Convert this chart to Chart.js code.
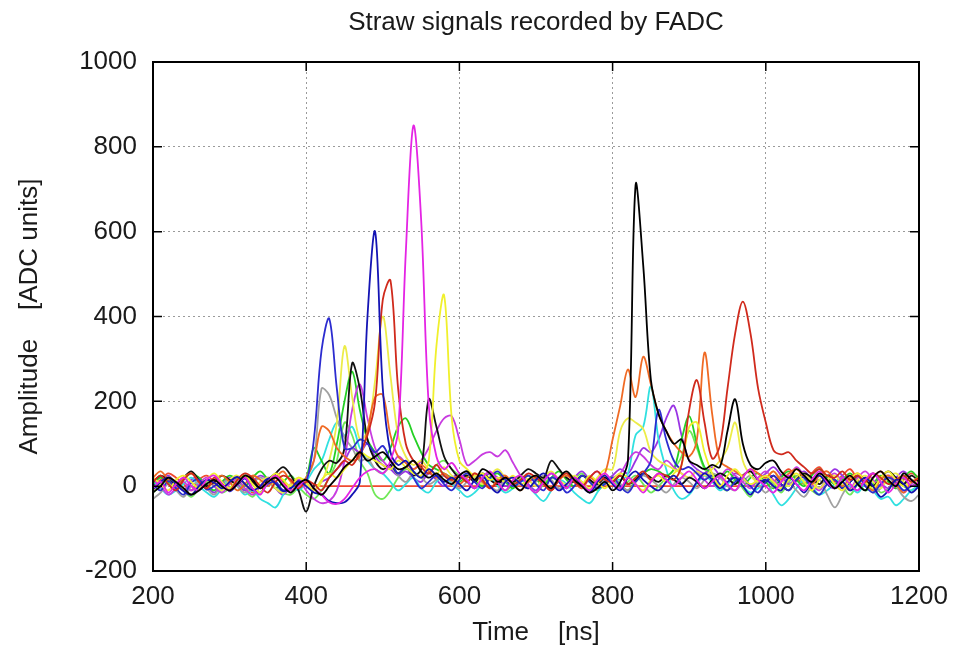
<!DOCTYPE html>
<html>
<head>
<meta charset="utf-8">
<title>Straw signals recorded by FADC</title>
<script src="https://cdn.jsdelivr.net/npm/chart.js@4.4.1/dist/chart.umd.min.js"></script>
<style>
  html, body { margin: 0; padding: 0; background: #fff; }
  canvas { display: block; }
</style>
</head>
<body>
<canvas id="fadc" width="973" height="653"></canvas>
<script>
// sampling times (ns), one value every 10 ns
var times = [];
for (var t = 200; t <= 1200; t += 10) times.push(t);

var xTicks = [200, 400, 600, 800, 1000, 1200];
var yTicks = [-200, 0, 200, 400, 600, 800, 1000];

// amplitudes per straw channel
var blue = [5,-10,12,-5,-20,8,15,-8,0,10,
  -12,4,18,-6,-15,5,10,-10,-4,8,
  10,110,320,395,230,90,90,110,100,80,
  95,60,30,45,20,-5,10,25,5,-10,
  15,30,10,-5,20,35,15,0,10,25,
  5,-10,20,10,-15,0,25,10,-5,5,
  20,0,-15,10,30,60,180,110,60,40,
  45,30,15,25,5,-10,10,20,0,-15,
  10,25,5,-10,15,20,-5,-20,5,15,
  -5,10,25,0,-15,5,20,10,-10,0,
  5];
var darkBlue = [-8,10,20,5,-12,-20,0,15,8,-5,
  10,22,5,-10,0,18,6,-12,-5,12,
  0,-15,-20,-35,-40,-38,-20,10,400,600,
  230,80,50,60,35,20,40,25,10,20,
  5,-10,15,25,0,-15,10,20,5,-5,
  15,30,10,-10,5,20,0,-15,10,25,
  5,-10,20,35,15,0,-10,10,25,5,
  -15,10,30,15,-5,10,20,0,-20,5,
  15,0,-10,20,5,-15,10,25,5,-5,
  10,-10,5,20,0,-25,-10,15,5,-15,
  0];
var red = [10,25,5,-10,15,30,10,-5,20,5,
  -10,15,30,20,0,-15,10,25,15,-5,
  10,5,-10,20,40,60,50,80,120,200,
  440,485,230,100,60,45,30,50,25,15,
  25,10,30,15,-5,10,20,5,15,30,
  20,5,-10,15,30,10,0,20,35,15,
  10,25,5,20,35,15,30,25,15,50,
  180,250,150,65,95,230,360,435,360,230,
  150,85,75,80,60,45,30,40,25,20,
  35,15,25,10,30,20,5,15,25,10,
  20];
var magenta = [-5,10,-15,5,20,0,-10,15,25,5,
  -10,5,20,-5,-20,10,25,5,-10,0,
  15,-5,-20,-38,-42,-30,-5,20,35,40,
  30,60,130,550,850,630,190,70,40,55,
  30,15,-5,20,35,10,-10,15,25,0,
  -15,10,30,15,-5,20,5,-10,15,30,
  10,-5,20,5,-15,10,30,15,0,20,
  35,15,-5,10,25,5,-10,20,40,15,
  0,-15,10,25,5,-10,15,35,10,-5,
  20,5,-10,15,30,10,-15,5,20,0,
  10];
var violet = [15,0,-20,-5,10,-10,5,20,0,-15,
  5,15,-5,-20,0,20,10,-10,5,15,
  -10,-30,-40,-35,-10,60,180,240,160,90,
  60,45,70,55,40,60,90,130,160,165,
  110,50,60,75,80,70,85,55,25,10,
  20,5,-10,15,30,10,-5,20,35,15,
  20,30,60,80,70,50,40,60,45,30,
  20,35,15,0,20,40,25,10,-5,20,
  35,15,0,20,45,25,5,-10,15,30,
  10,-5,20,35,15,0,25,10,-15,5,
  15];
var yellow = [20,5,-10,15,25,10,-5,15,30,10,
  -5,15,25,5,-15,10,30,15,0,20,
  10,-10,15,30,20,40,60,80,70,60,
  50,40,60,45,30,25,60,330,450,160,
  60,40,25,30,15,20,10,25,5,15,
  25,10,-5,15,30,20,5,25,10,-5,
  15,30,20,5,-10,15,25,10,30,50,
  140,150,80,30,0,25,40,20,5,15,
  25,10,-5,15,30,10,-10,15,25,5,
  -10,15,30,10,-5,20,35,15,0,10,
  20];
var paleYellow = [-10,5,20,10,-5,-20,0,15,5,-10,
  15,25,5,-10,10,20,-5,-15,5,20,
  5,-10,10,60,150,330,210,110,130,250,
  400,260,120,70,50,60,40,30,45,25,
  15,30,20,5,25,40,20,10,25,15,
  0,20,35,15,5,25,10,-5,20,40,
  40,130,160,150,135,80,60,50,40,30,
  20,35,25,40,60,90,150,60,25,10,
  20,35,15,0,20,30,10,-5,15,25,
  5,-10,15,25,10,-5,20,30,10,0,
  15];
var black = [10,25,15,5,20,35,15,0,10,25,
  15,5,20,10,-5,15,30,45,25,-10,
  -60,0,40,60,55,90,290,230,110,60,
  40,50,30,45,25,40,205,140,70,40,
  20,25,10,30,15,5,20,10,25,40,
  30,20,60,40,20,10,25,15,5,20,
  10,25,5,15,30,20,10,25,15,5,
  20,10,-5,15,30,20,5,25,35,15,
  10,25,5,-10,15,30,20,5,25,15,
  -5,10,25,15,0,20,35,20,5,25,
  10];
var black2 = [-15,0,20,10,-5,-20,-10,5,15,0,
  -10,5,25,15,-5,10,20,0,-15,5,
  15,-5,-20,0,20,45,60,80,60,70,
  80,60,40,45,60,35,20,30,15,5,
  25,35,15,40,30,10,20,5,-10,15,
  25,10,-5,20,35,15,0,-15,-5,10,
  -10,10,60,710,520,250,170,130,100,110,
  60,50,40,50,45,130,205,100,50,40,
  55,60,35,20,40,25,10,30,15,-5,
  10,25,5,-10,20,35,15,0,30,15,
  0];
var gray = [-30,-15,5,-10,-25,0,10,-5,-20,5,
  15,0,-15,5,20,10,-5,-15,0,10,
  20,60,230,215,160,115,90,60,65,40,
  30,45,25,10,30,20,5,15,25,10,
  -5,10,25,15,0,-10,15,20,5,-5,
  10,25,15,-5,5,20,10,-10,0,15,
  20,5,-10,10,25,15,0,-15,5,20,
  10,-5,15,30,20,0,-10,10,25,5,
  -15,5,20,10,-10,-25,0,15,-20,-50,
  -20,10,25,5,-15,-5,20,0,-25,-35,
  -20];
var green = [5,20,10,-5,15,30,20,5,-10,10,
  25,15,0,20,35,15,-5,10,25,5,
  20,90,60,30,100,200,270,180,110,80,
  60,90,140,160,120,80,50,40,30,20,
  10,25,15,0,20,30,10,-5,15,25,
  15,5,20,35,15,0,25,10,-5,15,
  20,5,-10,15,30,40,35,25,40,110,
  165,100,45,30,20,35,15,0,20,30,
  10,-5,20,35,15,0,25,40,20,5,
  15,30,10,-10,5,25,10,-5,20,35,
  15];
var lime = [-15,0,15,5,-10,-25,-5,10,0,-15,
  -5,10,-10,-25,0,15,5,-15,-20,-5,
  -20,-30,-10,20,60,150,120,60,30,-20,
  -30,-10,20,40,35,20,30,50,60,40,
  25,10,-5,15,30,10,-10,5,20,0,
  -15,5,20,10,-5,15,30,10,-10,5,
  15,-5,10,25,5,-15,0,20,40,70,
  130,90,40,20,0,-10,15,-5,-25,10,
  20,5,-15,10,25,5,-10,-20,5,15,
  0,-20,5,20,10,-15,-5,15,0,-10,
  5];
var cyan = [10,-5,-20,-10,5,20,0,-15,-25,-5,
  15,0,-20,-10,-30,-40,-50,-20,5,-10,
  10,40,60,110,150,120,140,90,60,40,
  30,10,-10,5,20,-5,-15,10,25,5,
  -10,-25,-15,5,20,0,-15,-5,15,0,
  -20,-35,-10,15,5,-15,-30,-40,-15,10,
  20,15,30,120,140,235,110,40,-10,-30,
  -20,5,25,10,-10,5,20,0,-15,-5,
  10,-20,-45,-30,-5,15,0,-20,-10,5,
  20,0,-15,5,-10,-30,-25,-45,-30,-10,
  0];
var orange = [20,35,15,0,20,30,10,-5,15,25,
  10,-10,5,25,15,0,20,35,10,0,
  20,60,140,130,90,70,60,70,130,210,
  215,120,70,55,40,50,35,20,30,15,
  5,20,30,10,-5,15,25,5,-10,10,
  20,5,-10,15,25,10,-5,20,10,30,
  110,190,275,210,305,240,170,130,100,80,
  70,110,315,170,60,45,35,25,40,30,
  20,35,15,30,40,20,5,25,35,15,
  0,20,30,10,-10,15,25,5,-15,10,
  20];
var purple = [-5,10,25,5,-10,15,20,0,-15,5,
  20,5,-10,10,25,15,-5,-20,0,15,
  5,-10,10,20,40,60,90,80,100,70,
  50,40,25,35,20,10,30,15,0,20,
  25,10,-5,15,30,20,0,10,25,5,
  -10,15,30,10,-5,20,35,15,0,10,
  25,40,30,60,90,80,110,160,190,120,
  60,40,30,45,25,10,30,20,0,15,
  30,45,25,5,20,35,15,-5,20,40,
  25,5,-10,15,30,10,-5,20,35,15,
  5];
var deadRed = [0,15,30,20,5,-10,15,25,10,-5,
  10,20,5,-15,0,15,25,10,-10,5,
  15,5,0,0,0,0,0,0,0,0,
  0,0,0,0,0,0,0,0,0,0,
  0,0,0,0,0,0,0,0,0,0,
  0,0,0,0,0,0,0,0,0,0,
  0,0,0,0,0,0,0,0,0,0,
  0,0,0,0,0,0,0,0,0,0,
  0,10,25,40,20,5,30,45,20,10,
  25,40,15,0,20,35,10,-5,15,30,
  20];

var channels = [
  [black2, "#000000"],
  [magenta, "#e424e4"],
  [darkBlue, "#1414b4"],
  [red, "#d02a1c"],
  [yellow, "#f0f02c"],
  [blue, "#2c2cd0"],
  [orange, "#f06a24"],
  [black, "#111111"],
  [paleYellow, "#ecec48"],
  [violet, "#c83ce0"],
  [gray, "#a0a0a0"],
  [green, "#24d024"],
  [cyan, "#30e0e0"],
  [purple, "#9a34e4"],
  [lime, "#70e858"],
  [deadRed, "#f04a30"]
];

var chartTitle = "Straw signals recorded by FADC";
var fontFamily = '"Liberation Sans", Arial, Helvetica, sans-serif';

// gnuplot-like frame: box, inward ticks on all four sides, centred title
var framePlugin = {
  id: "frame",
  afterDraw: function (chart) {
    var ctx = chart.ctx;
    var a = chart.chartArea;
    var xs = chart.scales.x;
    var ys = chart.scales.y;
    ctx.save();
    ctx.strokeStyle = "#000";
    ctx.lineWidth = 2;
    ctx.strokeRect(a.left, a.top, a.right - a.left, a.bottom - a.top);
    ctx.lineWidth = 1.5;
    ctx.beginPath();
    xTicks.forEach(function (v) {
      var px = xs.getPixelForValue(v);
      ctx.moveTo(px, a.bottom);
      ctx.lineTo(px, a.bottom - 9);
      ctx.moveTo(px, a.top);
      ctx.lineTo(px, a.top + 9);
    });
    yTicks.forEach(function (v) {
      var py = ys.getPixelForValue(v);
      ctx.moveTo(a.left, py);
      ctx.lineTo(a.left + 9, py);
      ctx.moveTo(a.right, py);
      ctx.lineTo(a.right - 9, py);
    });
    ctx.stroke();
    ctx.fillStyle = "#1a1a1a";
    ctx.font = "26px " + fontFamily;
    ctx.textAlign = "center";
    ctx.textBaseline = "middle";
    ctx.fillText(chartTitle, (a.left + a.right) / 2, 23);
    ctx.restore();
  }
};

var datasets = channels.map(function (c) {
  return {
    data: times.map(function (t, i) { return { x: t, y: c[0][i] }; }),
    borderColor: c[1],
    borderWidth: 1.8,
    pointRadius: 0,
    tension: 0.35,
    fill: false
  };
});

function plainLabel(v) { return String(v); }

new Chart(document.getElementById("fadc"), {
  type: "line",
  data: { datasets: datasets },
  plugins: [framePlugin],
  options: {
    responsive: false,
    animation: false,
    devicePixelRatio: 1,
    layout: { padding: { top: 62, right: 54, bottom: 0, left: 0 } },
    plugins: {
      legend: { display: false },
      tooltip: { enabled: false },
      title: { display: false }
    },
    scales: {
      x: {
        type: "linear",
        min: 200,
        max: 1200,
        afterBuildTicks: function (scale) {
          scale.ticks = xTicks.map(function (v) { return { value: v }; });
        },
        afterFit: function (scale) { scale.height = 82; },
        grid: { color: "#9a9a9a", lineWidth: 1, drawTicks: false },
        border: { display: false, dash: [2, 3] },
        ticks: {
          padding: 10,
          color: "#1a1a1a",
          maxRotation: 0,
          callback: plainLabel,
          font: { family: fontFamily, size: 26 }
        },
        title: {
          display: true,
          text: "Time    [ns]",
          color: "#1a1a1a",
          padding: { top: 0, bottom: 5 },
          font: { family: fontFamily, size: 26 }
        }
      },
      y: {
        type: "linear",
        min: -200,
        max: 1000,
        afterBuildTicks: function (scale) {
          scale.ticks = yTicks.map(function (v) { return { value: v }; });
        },
        afterFit: function (scale) { scale.width = 153; },
        grid: { color: "#9a9a9a", lineWidth: 1, drawTicks: false },
        border: { display: false, dash: [2, 3] },
        ticks: {
          padding: 16,
          color: "#1a1a1a",
          callback: plainLabel,
          font: { family: fontFamily, size: 26 }
        },
        title: {
          display: true,
          text: "Amplitude    [ADC units]",
          color: "#1a1a1a",
          padding: { top: 14, bottom: 0 },
          font: { family: fontFamily, size: 26 }
        }
      }
    }
  }
});
</script>
</body>
</html>
